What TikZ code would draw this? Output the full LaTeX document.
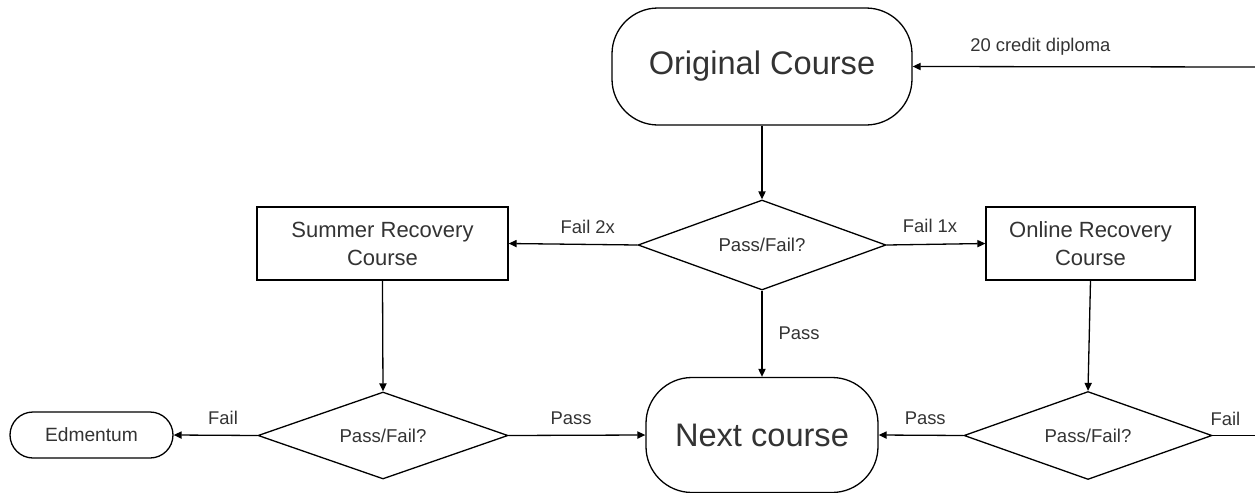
\documentclass[tikz,border=0pt]{standalone}
\usepackage{fontspec}
\setmainfont{Liberation Sans}
\usetikzlibrary{shapes.geometric,arrows.meta}
\definecolor{txt}{HTML}{333333}
\tikzset{
  every node/.style={text=txt},
  terminal/.style={draw=black, line width=0.65pt, rounded corners=23pt, inner sep=0pt,
    font=\fontsize{16.3}{19}\selectfont},
  procbox/.style={draw=black, line width=0.65pt, inner sep=0pt, align=center,
    font=\fontsize{11}{14}\selectfont},
  decide/.style={draw=black, line width=0.65pt, diamond, aspect=2.75, inner sep=0pt,
    font=\fontsize{9.3}{11}\selectfont},
  flow/.style={draw=black, line width=0.65pt, -{Triangle[length=4pt,width=3.6pt]}},
  plain/.style={draw=black, line width=0.65pt},
  lbl/.style={font=\fontsize{9.2}{11}\selectfont, inner sep=0pt}
}
\begin{document}
\begin{tikzpicture}[x=0.5pt, y=-0.5pt]
\useasboundingbox (0,0) rectangle (1255,493);
% nodes
\node[terminal, minimum width=150pt, minimum height=58.5pt] (orig) at (762,66.5) {Original Course};
\node[terminal, minimum width=116pt, minimum height=57.5pt] (next) at (762,435) {Next course};
\node[terminal, rounded corners=11.5pt, minimum width=81.5pt, minimum height=23pt,
  font=\fontsize{9.6}{11}\selectfont] (edm) at (91.5,435) {Edmentum};
\node[procbox, minimum width=125.5pt, minimum height=36.5pt] (summer) at (382.5,243.5) {Summer Recovery\\Course};
\node[procbox, minimum width=104.5pt, minimum height=36.5pt] (online) at (1090.5,243.5) {Online Recovery\\Course};
\node[decide, minimum width=124pt, minimum height=45pt] (d1) at (762,245) {Pass/Fail?};
\node[decide, minimum width=125pt, minimum height=43.5pt] (d2) at (383,435.5) {Pass/Fail?};
\node[decide, minimum width=124pt, minimum height=44pt] (d3) at (1088,435.5) {Pass/Fail?};
\coordinate (rin) at (1255,67);
\coordinate (rout) at (1255,435.5);
% connectors
\draw[flow] (orig.south) -- (d1.north);
\draw[flow] (d1.west) -- node[lbl, pos=0.385, yshift=9pt] {Fail 2x} (summer.east);
\draw[flow] (d1.east) -- node[lbl, pos=0.44, yshift=9pt] {Fail 1x} (online.west);
\draw[flow] (d1.south) -- node[lbl, pos=0.5, xshift=18.5pt] {Pass} (next.north);
\draw[flow] (summer.south) -- (d2.north);
\draw[flow] (d2.west) -- node[lbl, pos=0.41, yshift=8.5pt] {Fail} (edm.east);
\draw[flow] (d2.east) -- node[lbl, pos=0.457, yshift=8.5pt] {Pass} (next.west);
\draw[flow] (online.south) -- (d3.north);
\draw[flow] (d3.west) -- node[lbl, pos=0.45, yshift=8.5pt] {Pass} (next.east);
\draw[plain] (d3.east) -- node[lbl, pos=0.3, yshift=8.5pt] {Fail} (rout);
\draw[flow] (rin) -- node[lbl, pos=0.627, yshift=10pt] {20 credit diploma} (orig.east);
\end{tikzpicture}
\end{document}
